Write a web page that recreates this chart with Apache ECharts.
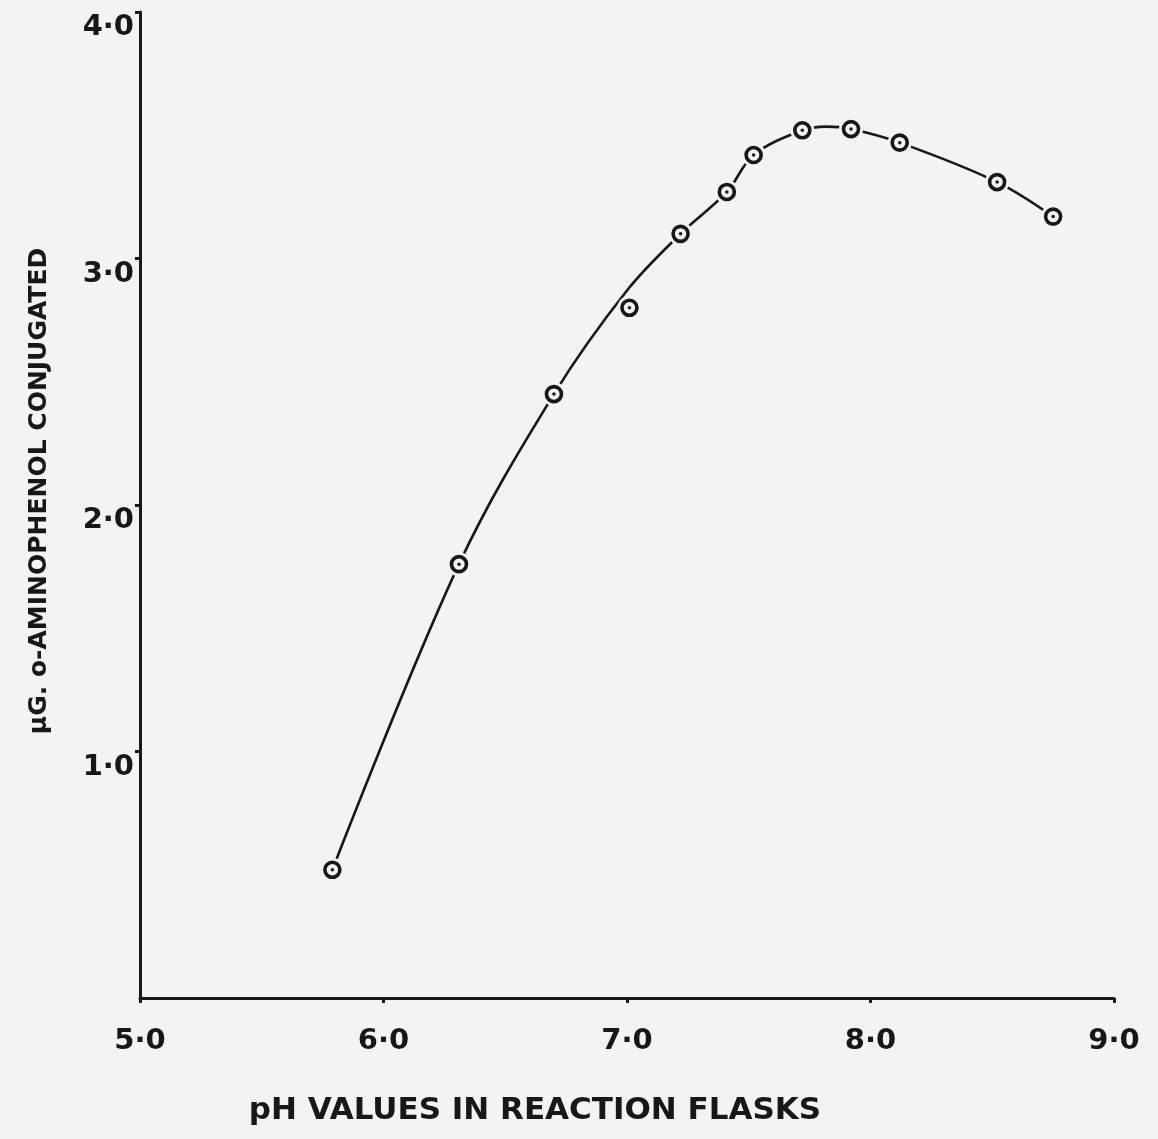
<!DOCTYPE html>
<html>
<head>
<meta charset="utf-8">
<script src="https://cdn.jsdelivr.net/npm/echarts@6/dist/echarts.min.js"></script>
<style>
html,body{margin:0;padding:0;background:#f3f3f3;}
#c{width:1158px;height:1139px;}
</style>
</head>
<body>
<div id="c"></div>
<script>
// Measured points: pH vs µg o-aminophenol conjugated
const phValues = [5.79, 6.31, 6.70, 7.01, 7.22, 7.41, 7.52, 7.72, 7.92, 8.12, 8.52, 8.75];
const ugValues = [0.52, 1.76, 2.45, 2.80, 3.10, 3.27, 3.42, 3.52, 3.525, 3.47, 3.31, 3.17];

// Hand-drawn smooth curve
const curvePh = [5.79, 6.31, 6.70, 7.00, 7.22, 7.41, 7.52, 7.72, 7.82, 7.92, 8.12, 8.52, 8.75];
const curveUg = [0.52, 1.76, 2.45, 2.87, 3.10, 3.27, 3.42, 3.52, 3.535, 3.525, 3.47, 3.31, 3.17];

const xTicks = ['5·0', '6·0', '7·0', '8·0', '9·0'];
const yTicks = ['0', '1·0', '2·0', '3·0', '4·0'];

const BG = '#f3f3f3';
const INK = '#171717';
const FONT = '"DejaVu Sans", Lato, sans-serif';

const points = phValues.map((p, i) => [p, ugValues[i]]);
const curve = curvePh.map((p, i) => [p, curveUg[i]]);

const chart = echarts.init(document.getElementById('c'), null, {renderer: 'canvas'});
chart.setOption({
  backgroundColor: BG,
  animation: false,
  grid: {left: 140, right: 44, top: 12, bottom: 141, containLabel: false},
  xAxis: {
    type: 'value', min: 5, max: 9, interval: 1,
    axisLine: {show: true, lineStyle: {color: INK, width: 3}},
    axisTick: {show: true, inside: false, length: 5, lineStyle: {color: INK, width: 3}},
    splitLine: {show: false},
    axisLabel: {
      margin: 29, fontSize: 29, fontFamily: FONT, fontWeight: 'bold', color: INK,
      formatter: v => xTicks[Math.round(v - 5)]
    },
    name: 'pH VALUES IN REACTION FLASKS',
    nameLocation: 'middle', nameGap: 97,
    nameTextStyle: {fontSize: 31, fontFamily: FONT, fontWeight: 'bold', color: INK,
      padding: [0, 184, 0, 0]}
  },
  yAxis: {
    type: 'value', min: 0, max: 4, interval: 1,
    axisLine: {show: true, lineStyle: {color: INK, width: 3}},
    axisTick: {show: true, length: 5, lineStyle: {color: INK, width: 3}},
    splitLine: {show: false},
    axisLabel: {
      margin: 6, fontSize: 29, fontFamily: FONT, fontWeight: 'bold', color: INK,
      showMinLabel: false, verticalAlign: 'top', padding: [1, 0, 0, 0],
      formatter: v => yTicks[Math.round(v)]
    },
    name: 'μG. o-AMINOPHENOL CONJUGATED',
    nameLocation: 'middle', nameGap: 88, nameRotate: 90,
    nameTextStyle: {fontSize: 25, fontFamily: FONT, fontWeight: 'bold', color: INK,
      padding: [0, 0, 0, 28]}
  },
  series: [
    {
      type: 'line', data: curve, smooth: 0.35, showSymbol: false, silent: true, z: 2,
      lineStyle: {color: INK, width: 2.6}
    },
    {
      type: 'scatter', data: points, symbol: 'circle', symbolSize: 24, silent: true, z: 3,
      itemStyle: {color: BG, borderWidth: 0, opacity: 1}
    },
    {
      type: 'scatter', data: points, symbol: 'circle', symbolSize: 15, silent: true, z: 4,
      itemStyle: {color: BG, borderColor: INK, borderWidth: 3.6, opacity: 1}
    },
    {
      type: 'scatter', data: points, symbol: 'circle', symbolSize: 3.5, silent: true, z: 5,
      itemStyle: {color: INK, opacity: 1}
    }
  ]
});
</script>
</body>
</html>
